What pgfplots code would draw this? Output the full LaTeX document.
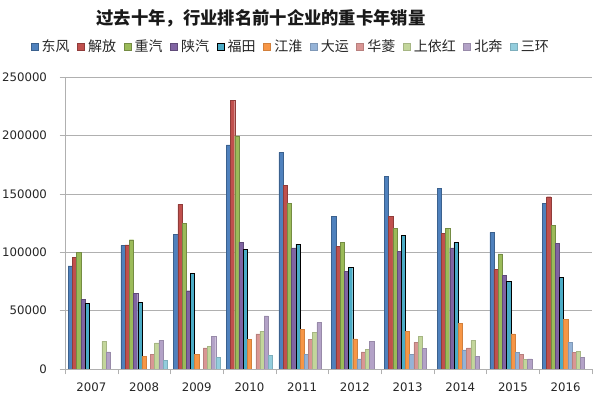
\documentclass[border=0pt]{standalone}
\usepackage{fontspec}
\usepackage{pgfplots}
\usepackage{pgfplotstable}
\pgfplotsset{compat=1.18}
\setmainfont{DejaVu Sans}
\newfontfamily\cjk{Noto Sans CJK SC}

\definecolor{dongfeng}{HTML}{4F81BD}
\definecolor{jiefang}{HTML}{C0504D}
\definecolor{zhongqi}{HTML}{9BBB59}
\definecolor{shanqi}{HTML}{8064A2}
\definecolor{futian}{HTML}{4BACC6}
\definecolor{jianghuai}{HTML}{F79646}
\definecolor{dayun}{HTML}{95B3D7}
\definecolor{hualing}{HTML}{D99694}
\definecolor{shangyi}{HTML}{C3D69B}
\definecolor{beiben}{HTML}{B3A2C7}
\definecolor{sanhuan}{HTML}{93CDDD}
\definecolor{gridgray}{HTML}{B0B0B0}

% annual sales, columns: brand; rows 2007..2016 (x = 0..9)
\pgfplotstableread{
x  df      jf      zq      sq      ft      jh     dy     hl     sy     bb     sh
0  88200   95600   99600   59900   56200   nan    nan    nan    23700  14600  nan
1  105900  106200  110700  64800   56800   10800  nan    12600  22300  24500  7700
2  115300  141000  124400  67000   81900   12600  nan    18000  19100  27700  9700
3  191800  230300  199500  108400  102500  25100  nan    30000  32500  45400  11700
4  185500  157500  141800  103600  107000  33700  12800  25100  31100  39700  nan
5  130700  105000  108400  83600   87300   25700  8600   14600  16600  23700  nan
6  165000  130400  120400  100700  114700  32500  12600  22800  27700  17700  nan
7  154700  116200  120700  103600  108200  39100  16300  18000  24500  11100  nan
8  117000  85600   98500   80200   74800   30000  14300  12600  8300   8600   nan
9  142100  147500  122700  107600  78200   42800  23100  14300  15400  9700   nan
}\sales

\begin{document}
\begin{tikzpicture}
\path[use as bounding box] (0,0) rectangle (450pt,305.25pt);
\begin{axis}[
  at={(48.75pt,28.5pt)}, anchor=south west,
  scale only axis, width=395.25pt, height=219pt,
  ybar=0pt, bar width=3.16pt,
  xmin=-0.5, xmax=9.5, ymin=0, ymax=250000,
  axis lines=left, axis line style={draw=gridgray, -},
  xtick={0,...,9},
  xticklabels={2007,2008,2009,2010,2011,2012,2013,2014,2015,2016},
  minor xtick={-0.5,0.5,...,9.5},
  major x tick style={draw=none},
  minor x tick style={draw=gridgray},
  minor tick length=4pt,
  ytick={0,50000,...,250000},
  scaled y ticks=false,
  /pgf/number format/fixed,
  /pgf/number format/set thousands separator={},
  /pgf/number format/assume math mode=true,
  ymajorgrids, major grid style={gridgray},
  tick align=outside, major tick length=4pt,
  y tick style={draw=gridgray},
  tick label style={font=\fontsize{8.8}{10}\selectfont, text=black!85},
  xticklabel style={yshift=-3pt},
  yticklabel style={xshift=-6pt},
  legend columns=-1,
  legend style={at={(0.43,1.1027)}, anchor=center, draw=none, fill=none,
    font=\cjk\fontsize{10.5}{12}\selectfont, text=black!85,
    /tikz/every even column/.append style={column sep=3pt},
    nodes={inner xsep=2.7pt},
    inner sep=0pt},
  legend cell align=left,
  legend image code/.code={\fill[#1] (0pt,-2.2pt) rectangle (5.2pt,3pt);},
  every axis plot/.append style={line width=0.3pt},
]
\addplot[fill=dongfeng, draw=dongfeng!75!black] table[x=x,y=df]{\sales};
\addlegendentry{东风}
\addplot[fill=jiefang, draw=jiefang!75!black] table[x=x,y=jf]{\sales};
\addlegendentry{解放}
\addplot[fill=zhongqi, draw=zhongqi!75!black] table[x=x,y=zq]{\sales};
\addlegendentry{重汽}
\addplot[fill=shanqi, draw=shanqi!75!black] table[x=x,y=sq]{\sales};
\addlegendentry{陕汽}
\addplot[fill=futian, draw=black] table[x=x,y=ft]{\sales};
\addlegendentry{福田}
\addplot[fill=jianghuai, draw=jianghuai!85!black] table[x=x,y=jh]{\sales};
\addlegendentry{江淮}
\addplot[fill=dayun, draw=dayun!85!black] table[x=x,y=dy]{\sales};
\addlegendentry{大运}
\addplot[fill=hualing, draw=hualing!85!black] table[x=x,y=hl]{\sales};
\addlegendentry{华菱}
\addplot[fill=shangyi, draw=shangyi!85!black] table[x=x,y=sy]{\sales};
\addlegendentry{上依红}
\addplot[fill=beiben, draw=beiben!85!black] table[x=x,y=bb]{\sales};
\addlegendentry{北奔}
\addplot[fill=sanhuan, draw=sanhuan!85!black] table[x=x,y=sh]{\sales};
\addlegendentry{三环}
\end{axis}
\node[font=\cjk\bfseries\fontsize{13}{15}\selectfont, text=black!90] at (195.75pt,291.75pt) {过去十年，行业排名前十企业的重卡年销量};
\end{tikzpicture}
\end{document}
